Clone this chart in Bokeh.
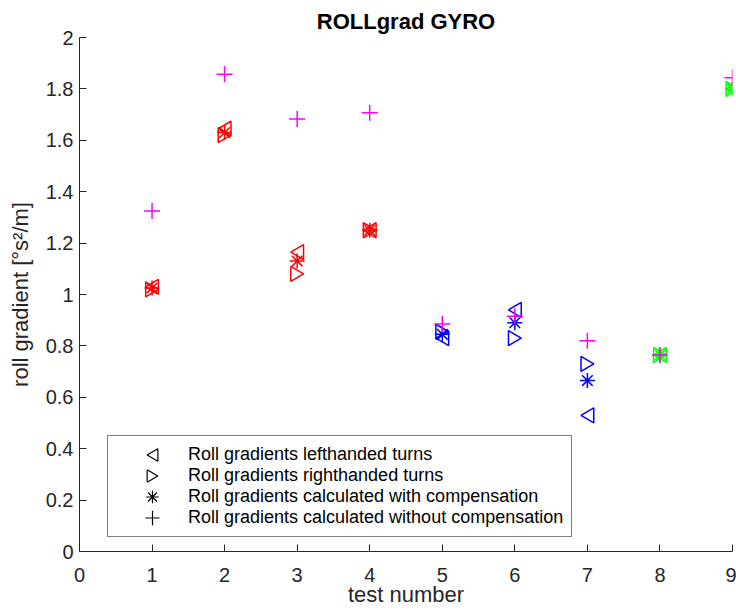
import math
from bokeh.plotting import figure
from bokeh.models import (ColumnDataSource, Range1d, Legend, LegendItem,
                          FixedTicker, CustomJS)
from bokeh.embed import file_html
from bokeh.resources import INLINE

# ---- data ----
tests = [1, 2, 3, 4, 5, 6, 7, 8, 9]
left_turns = [1.03, 1.645, 1.165, 1.25, 0.83, 0.94, 0.53, 0.765, 1.80]
right_turns = [1.02, 1.62, 1.08, 1.25, 0.855, 0.83, 0.73, 0.765, 1.80]
with_comp = [1.025, 1.63, 1.13, 1.25, 0.845, 0.89, 0.665, 0.765, 1.80]
without_comp = [1.325, 1.857, 1.683, 1.707, 0.885, 0.915, 0.82, 0.765, 1.843]
groups = ["a", "a", "a", "a", "b", "b", "b", "c", "c"]
legend_labels = [
    "Roll gradients lefthanded turns",
    "Roll gradients righthanded turns",
    "Roll gradients calculated with compensation",
    "Roll gradients calculated without compensation",
]
x_ticks = [0, 1, 2, 3, 4, 5, 6, 7, 8, 9]
y_ticks = [0, 0.2, 0.4, 0.6, 0.8, 1.0, 1.2, 1.4, 1.6, 1.8, 2.0]

group_color = {"a": "#FF0000", "b": "#0000FF", "c": "#00FF00"}
colors = [group_color[g] for g in groups]

FONT = "Liberation Sans"
DARK = "#262626"

# custom MATLAB-like markers; second number is a size factor (legend keys are larger)
tri_code = """
export default (args, obj, {ctx, i, r, visuals}) => {
  const d = %s;
  const R = r * %s;
  ctx.beginPath()
  ctx.moveTo(-d*0.85*R, 0)
  ctx.lineTo(d*0.85*R, -R)
  ctx.lineTo(d*0.85*R, R)
  ctx.closePath()
  visuals.line.apply(ctx, i)
}
"""
star_code = """
export default (args, obj, {ctx, i, r, visuals}) => {
  const R = r * %s;
  const q = R * 0.7071;
  ctx.beginPath()
  ctx.moveTo(-R, 0); ctx.lineTo(R, 0)
  ctx.moveTo(0, -R); ctx.lineTo(0, R)
  ctx.moveTo(-q, -q); ctx.lineTo(q, q)
  ctx.moveTo(-q, q); ctx.lineTo(q, -q)
  visuals.line.apply(ctx, i)
}
"""
plus_code = """
export default (args, obj, {ctx, i, r, visuals}) => {
  const R = r * %s;
  ctx.beginPath()
  ctx.moveTo(-R, 0); ctx.lineTo(R, 0)
  ctx.moveTo(0, -R); ctx.lineTo(0, R)
  visuals.line.apply(ctx, i)
}
"""
marker_defs = {
    "@ltri": CustomJS(code=tri_code % ("1", "1")),
    "@rtri": CustomJS(code=tri_code % ("-1", "1")),
    "@ltri_key": CustomJS(code=tri_code % ("1", "1.5")),
    "@rtri_key": CustomJS(code=tri_code % ("-1", "1.5")),
    "@star_key": CustomJS(code=star_code % "1.5"),
    "@plus_key": CustomJS(code=plus_code % "1.7"),
}

p = figure(width=736, height=612, output_backend="svg", toolbar_location=None,
           x_range=Range1d(0, 9), y_range=Range1d(0, 2),
           min_border_left=79, min_border_right=4, min_border_top=37, min_border_bottom=61)
p.title.text = "ROLLgrad GYRO"
p.title.align = "center"
p.title.text_font = FONT
p.title.text_font_size = "22px"
p.title.text_font_style = "bold"
p.title.text_color = "#000000"
p.title.standoff = 8
p.outline_line_color = None
p.grid.visible = False

src = ColumnDataSource(dict(x=tests, left=left_turns, right=right_turns,
                            comp=with_comp, nocomp=without_comp, color=colors))

ms = 15
p.scatter("x", "left", source=src, marker="@ltri", defs=marker_defs, size=ms,
          fill_color=None, line_color="color", line_width=1.5)
p.scatter("x", "right", source=src, marker="@rtri", defs=marker_defs, size=ms,
          fill_color=None, line_color="color", line_width=1.5)
p.scatter("x", "comp", source=src, marker="asterisk", size=ms,
          line_color="color", line_width=1.5)
p.scatter("x", "nocomp", source=src, marker="cross", size=16,
          line_color="#FF00FF", line_width=1.5)

# legend proxies (black markers, no visible data)
nan_src = ColumnDataSource(dict(x=[float("nan")], y=[float("nan")]))
proxy_markers = ["@ltri_key", "@rtri_key", "@star_key", "@plus_key"]
proxies = [p.scatter("x", "y", source=nan_src, marker=m, defs=marker_defs, size=ms,
                     fill_color=None, line_color="black", line_width=1.2)
           for m in proxy_markers]

legend = Legend(items=[LegendItem(label=lbl, renderers=[r]) for lbl, r in
                       zip(legend_labels, proxies)],
                location=(28, 14))
legend.label_text_font = FONT
legend.label_text_font_size = "18px"
legend.label_text_color = "#000000"
legend.border_line_color = "#000000"
legend.border_line_width = 1
legend.background_fill_alpha = 1
legend.padding = 8
legend.margin = 0
legend.spacing = 0
legend.glyph_width = 72
legend.glyph_height = 21
legend.label_height = 21
legend.label_standoff = 0
p.add_layout(legend, "center")

for ax in (p.xaxis[0], p.yaxis[0]):
    ax.major_tick_in = 7
    ax.major_tick_out = 0
    ax.minor_tick_line_color = None
    ax.axis_line_color = DARK
    ax.major_tick_line_color = DARK
    ax.major_label_text_font = FONT
    ax.major_label_text_font_size = "20px"
    ax.major_label_text_color = DARK
    ax.axis_label_text_font = FONT
    ax.axis_label_text_font_size = "22px"
    ax.axis_label_text_font_style = "normal"
    ax.axis_label_text_color = DARK

p.xaxis.ticker = FixedTicker(ticks=x_ticks)
p.yaxis.ticker = FixedTicker(ticks=y_ticks)
p.yaxis.major_label_overrides = {0: "0", 1: "1", 2: "2"}
p.xaxis.axis_label = "test number"
p.yaxis.axis_label = "roll gradient [°s²/m]"
p.xaxis.major_label_standoff = 16
p.yaxis.major_label_standoff = 6
p.xaxis.axis_label_standoff = -3
p.yaxis.axis_label_standoff = 10

open("out.html", "w").write(file_html(p, INLINE))
